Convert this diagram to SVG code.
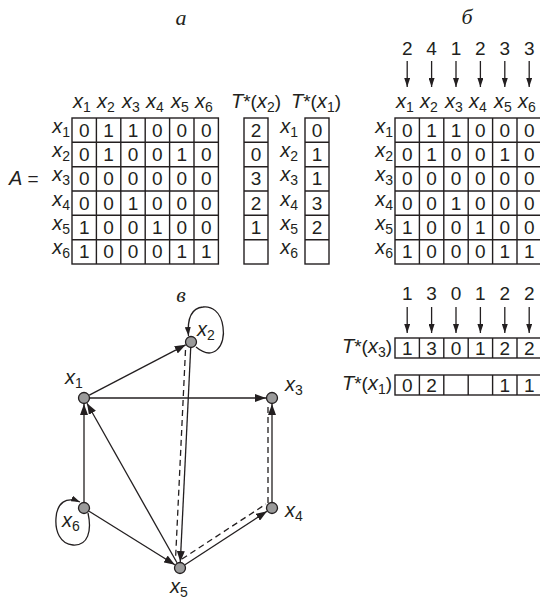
<svg xmlns="http://www.w3.org/2000/svg" width="540" height="600" viewBox="0 0 540 600">
<defs>
<style>
.t{font-family:"Liberation Sans",Arial,sans-serif;font-size:19px;fill:#231f20}
.c{text-anchor:middle}
.e{text-anchor:end}
.i{font-style:italic;font-size:20px}
.s{font-size:14px;font-style:normal}
.h{font-family:"Liberation Serif","DejaVu Serif",serif;font-style:italic;font-size:22px;fill:#231f20;text-anchor:middle}
.g{fill:none;stroke:#231f20;stroke-width:1.4}
.ln{stroke:#231f20;stroke-width:1.3;fill:none}
.ds{stroke:#231f20;stroke-width:1.3;fill:none;stroke-dasharray:6 4}
.nd{fill:#9a9a9a;stroke:#231f20;stroke-width:1.3}
</style>
<marker id="ar" markerUnits="userSpaceOnUse" markerWidth="12" markerHeight="8" refX="11" refY="4" orient="auto">
<path d="M0,0 L11,4 L0,8 Z" fill="#231f20"/>
</marker>
<marker id="as" markerUnits="userSpaceOnUse" markerWidth="10" markerHeight="6" refX="9" refY="3" orient="auto">
<path d="M0,0 L9,3 L0,6 Z" fill="#231f20"/>
</marker>
</defs>
<rect width="540" height="600" fill="#fff"/>

<text class="h" x="181" y="25">а</text>
<text class="h" x="467" y="24">б</text>
<text class="h" x="181" y="302">в</text>

<!-- Panel a: matrix A -->
<g id="matrixA">
<g class="t c">
<text x="82" y="108"><tspan class="i">x</tspan><tspan class="s" dy="4">1</tspan></text>
<text x="106" y="108"><tspan class="i">x</tspan><tspan class="s" dy="4">2</tspan></text>
<text x="131" y="108"><tspan class="i">x</tspan><tspan class="s" dy="4">3</tspan></text>
<text x="155" y="108"><tspan class="i">x</tspan><tspan class="s" dy="4">4</tspan></text>
<text x="180" y="108"><tspan class="i">x</tspan><tspan class="s" dy="4">5</tspan></text>
<text x="204" y="108"><tspan class="i">x</tspan><tspan class="s" dy="4">6</tspan></text>
</g>
<g class="t e">
<text x="70" y="133"><tspan class="i">x</tspan><tspan class="s" dy="4">1</tspan></text>
<text x="70" y="157"><tspan class="i">x</tspan><tspan class="s" dy="4">2</tspan></text>
<text x="70" y="181"><tspan class="i">x</tspan><tspan class="s" dy="4">3</tspan></text>
<text x="70" y="206"><tspan class="i">x</tspan><tspan class="s" dy="4">4</tspan></text>
<text x="70" y="230"><tspan class="i">x</tspan><tspan class="s" dy="4">5</tspan></text>
<text x="70" y="254"><tspan class="i">x</tspan><tspan class="s" dy="4">6</tspan></text>
</g>
<text class="t" x="9" y="185"><tspan class="i">A</tspan> =</text>
<rect class="g" x="72" y="118" width="146.4" height="146"/>
<path class="g" d="M96.4,118V264M120.8,118V264M145.2,118V264M169.6,118V264M194,118V264M72,142.3H218.4M72,166.7H218.4M72,191H218.4M72,215.3H218.4M72,239.7H218.4"/>
<g class="t c">
<text x="84.2" y="137">0</text><text x="108.6" y="137">1</text><text x="133" y="137">1</text><text x="157.4" y="137">0</text><text x="181.8" y="137">0</text><text x="206.2" y="137">0</text>
<text x="84.2" y="161">0</text><text x="108.6" y="161">1</text><text x="133" y="161">0</text><text x="157.4" y="161">0</text><text x="181.8" y="161">1</text><text x="206.2" y="161">0</text>
<text x="84.2" y="185">0</text><text x="108.6" y="185">0</text><text x="133" y="185">0</text><text x="157.4" y="185">0</text><text x="181.8" y="185">0</text><text x="206.2" y="185">0</text>
<text x="84.2" y="210">0</text><text x="108.6" y="210">0</text><text x="133" y="210">1</text><text x="157.4" y="210">0</text><text x="181.8" y="210">0</text><text x="206.2" y="210">0</text>
<text x="84.2" y="234">1</text><text x="108.6" y="234">0</text><text x="133" y="234">0</text><text x="157.4" y="234">1</text><text x="181.8" y="234">0</text><text x="206.2" y="234">0</text>
<text x="84.2" y="258">1</text><text x="108.6" y="258">0</text><text x="133" y="258">0</text><text x="157.4" y="258">0</text><text x="181.8" y="258">1</text><text x="206.2" y="258">1</text>
</g>
</g>

<!-- T*(x2) column -->
<g id="Tx2col">
<text class="t" x="231" y="108"><tspan class="i">T</tspan>*(<tspan class="i">x</tspan><tspan class="s" dy="4">2</tspan><tspan dy="-4">)</tspan></text>
<rect class="g" x="244" y="118" width="24" height="146"/>
<path class="g" d="M244,142.3H268M244,166.7H268M244,191H268M244,215.3H268M244,239.7H268"/>
<g class="t c">
<text x="256" y="137">2</text><text x="256" y="161">0</text><text x="256" y="185">3</text><text x="256" y="210">2</text><text x="256" y="234">1</text>
</g>
</g>

<!-- T*(x1) column -->
<g id="Tx1col">
<text class="t" x="291" y="108"><tspan class="i">T</tspan>*(<tspan class="i">x</tspan><tspan class="s" dy="4">1</tspan><tspan dy="-4">)</tspan></text>
<g class="t e">
<text x="298" y="133"><tspan class="i">x</tspan><tspan class="s" dy="4">1</tspan></text>
<text x="298" y="157"><tspan class="i">x</tspan><tspan class="s" dy="4">2</tspan></text>
<text x="298" y="181"><tspan class="i">x</tspan><tspan class="s" dy="4">3</tspan></text>
<text x="298" y="206"><tspan class="i">x</tspan><tspan class="s" dy="4">4</tspan></text>
<text x="298" y="230"><tspan class="i">x</tspan><tspan class="s" dy="4">5</tspan></text>
<text x="298" y="254"><tspan class="i">x</tspan><tspan class="s" dy="4">6</tspan></text>
</g>
<rect class="g" x="305" y="118" width="24" height="146"/>
<path class="g" d="M305,142.3H329M305,166.7H329M305,191H329M305,215.3H329M305,239.7H329"/>
<g class="t c">
<text x="317" y="137">0</text><text x="317" y="161">1</text><text x="317" y="185">1</text><text x="317" y="210">3</text><text x="317" y="234">2</text>
</g>
</g>

<!-- Panel b -->
<g id="topArrows">
<g class="t c">
<text x="407.2" y="55">2</text><text x="431.6" y="55">4</text><text x="456" y="55">1</text><text x="480.4" y="55">2</text><text x="504.8" y="55">3</text><text x="529.2" y="55">3</text>
</g>
<path class="ln" marker-end="url(#as)" d="M407.2,61V87"/>
<path class="ln" marker-end="url(#as)" d="M431.6,61V87"/>
<path class="ln" marker-end="url(#as)" d="M456,61V87"/>
<path class="ln" marker-end="url(#as)" d="M480.4,61V87"/>
<path class="ln" marker-end="url(#as)" d="M504.8,61V87"/>
<path class="ln" marker-end="url(#as)" d="M529.2,61V87"/>
</g>

<g id="matrixB">
<g class="t c">
<text x="405" y="108"><tspan class="i">x</tspan><tspan class="s" dy="4">1</tspan></text>
<text x="429" y="108"><tspan class="i">x</tspan><tspan class="s" dy="4">2</tspan></text>
<text x="454" y="108"><tspan class="i">x</tspan><tspan class="s" dy="4">3</tspan></text>
<text x="478" y="108"><tspan class="i">x</tspan><tspan class="s" dy="4">4</tspan></text>
<text x="503" y="108"><tspan class="i">x</tspan><tspan class="s" dy="4">5</tspan></text>
<text x="527" y="108"><tspan class="i">x</tspan><tspan class="s" dy="4">6</tspan></text>
</g>
<g class="t e">
<text x="393" y="133"><tspan class="i">x</tspan><tspan class="s" dy="4">1</tspan></text>
<text x="393" y="157"><tspan class="i">x</tspan><tspan class="s" dy="4">2</tspan></text>
<text x="393" y="181"><tspan class="i">x</tspan><tspan class="s" dy="4">3</tspan></text>
<text x="393" y="206"><tspan class="i">x</tspan><tspan class="s" dy="4">4</tspan></text>
<text x="393" y="230"><tspan class="i">x</tspan><tspan class="s" dy="4">5</tspan></text>
<text x="393" y="254"><tspan class="i">x</tspan><tspan class="s" dy="4">6</tspan></text>
</g>
<rect class="g" x="395" y="118" width="146.4" height="146"/>
<path class="g" d="M419.4,118V264M443.8,118V264M468.2,118V264M492.6,118V264M517,118V264M395,142.3H541.4M395,166.7H541.4M395,191H541.4M395,215.3H541.4M395,239.7H541.4"/>
<g class="t c">
<text x="407.2" y="137">0</text><text x="431.6" y="137">1</text><text x="456" y="137">1</text><text x="480.4" y="137">0</text><text x="504.8" y="137">0</text><text x="529.2" y="137">0</text>
<text x="407.2" y="161">0</text><text x="431.6" y="161">1</text><text x="456" y="161">0</text><text x="480.4" y="161">0</text><text x="504.8" y="161">1</text><text x="529.2" y="161">0</text>
<text x="407.2" y="185">0</text><text x="431.6" y="185">0</text><text x="456" y="185">0</text><text x="480.4" y="185">0</text><text x="504.8" y="185">0</text><text x="529.2" y="185">0</text>
<text x="407.2" y="210">0</text><text x="431.6" y="210">0</text><text x="456" y="210">1</text><text x="480.4" y="210">0</text><text x="504.8" y="210">0</text><text x="529.2" y="210">0</text>
<text x="407.2" y="234">1</text><text x="431.6" y="234">0</text><text x="456" y="234">0</text><text x="480.4" y="234">1</text><text x="504.8" y="234">0</text><text x="529.2" y="234">0</text>
<text x="407.2" y="258">1</text><text x="431.6" y="258">0</text><text x="456" y="258">0</text><text x="480.4" y="258">0</text><text x="504.8" y="258">1</text><text x="529.2" y="258">1</text>
</g>
</g>

<g id="bottomArrows">
<g class="t c">
<text x="407.2" y="300">1</text><text x="431.6" y="300">3</text><text x="456" y="300">0</text><text x="480.4" y="300">1</text><text x="504.8" y="300">2</text><text x="529.2" y="300">2</text>
</g>
<path class="ln" marker-end="url(#as)" d="M407.2,307V333"/>
<path class="ln" marker-end="url(#as)" d="M431.6,307V333"/>
<path class="ln" marker-end="url(#as)" d="M456,307V333"/>
<path class="ln" marker-end="url(#as)" d="M480.4,307V333"/>
<path class="ln" marker-end="url(#as)" d="M504.8,307V333"/>
<path class="ln" marker-end="url(#as)" d="M529.2,307V333"/>
</g>

<g id="Tx3row">
<text class="t e" x="392" y="353"><tspan class="i">T</tspan>*(<tspan class="i">x</tspan><tspan class="s" dy="4">3</tspan><tspan dy="-4">)</tspan></text>
<rect class="g" x="395" y="338" width="146.4" height="20"/>
<path class="g" d="M419.4,338V358M443.8,338V358M468.2,338V358M492.6,338V358M517,338V358"/>
<g class="t c">
<text x="407.2" y="355">1</text><text x="431.6" y="355">3</text><text x="456" y="355">0</text><text x="480.4" y="355">1</text><text x="504.8" y="355">2</text><text x="529.2" y="355">2</text>
</g>
</g>

<g id="Tx1row">
<text class="t e" x="392" y="390"><tspan class="i">T</tspan>*(<tspan class="i">x</tspan><tspan class="s" dy="4">1</tspan><tspan dy="-4">)</tspan></text>
<rect class="g" x="395" y="375" width="146.4" height="20"/>
<path class="g" d="M419.4,375V395M443.8,375V395M468.2,375V395M492.6,375V395M517,375V395"/>
<g class="t c">
<text x="407.2" y="392">0</text><text x="431.6" y="392">2</text><text x="504.8" y="392">1</text><text x="529.2" y="392">1</text>
</g>
</g>

<!-- Panel v: graph -->
<g id="connectors">
<path class="ln" marker-end="url(#ar)" d="M89.3,395.2L185.7,344.8"/>
<path class="ln" marker-end="url(#ar)" d="M90,398H266"/>
<path class="ln" marker-end="url(#ar)" d="M84,502V404"/>
<path class="ln" marker-end="url(#ar)" d="M177,562.8L87,403.2"/>
<path class="ln" marker-end="url(#ar)" d="M89.1,511.2L174.9,564.8"/>
<path class="ln" marker-end="url(#ar)" d="M190.7,348L180.3,562"/>
<path class="ln" marker-end="url(#ar)" d="M185,564.7L267,511.3"/>
<path class="ln" marker-end="url(#ar)" d="M272,502V404"/>
<path class="ds" d="M185.5,350L175.5,560"/>
<path class="ds" d="M182,559L266,504"/>
<path class="ds" d="M268,503V404"/>
<path class="ln" marker-end="url(#as)" d="M196,347C214,362 226,345 223,327C221,311 211,306 203,307C192,308 187,318 188.5,336"/>
<path class="ln" marker-end="url(#as)" d="M88,513C92,531 88,546 73,545C60,544 55,531 56,518C57,503 66,496 80,502"/>
</g>

<g id="n1"><circle class="nd" cx="84" cy="398" r="5.5"/><text class="t" x="65" y="384"><tspan class="i">x</tspan><tspan class="s" dy="4">1</tspan></text></g>
<g id="n2"><circle class="nd" cx="191" cy="342" r="5.5"/><text class="t" x="197" y="336"><tspan class="i">x</tspan><tspan class="s" dy="4">2</tspan></text></g>
<g id="n3"><circle class="nd" cx="272" cy="398" r="5.5"/><text class="t" x="285" y="391"><tspan class="i">x</tspan><tspan class="s" dy="4">3</tspan></text></g>
<g id="n4"><circle class="nd" cx="272" cy="508" r="5.5"/><text class="t" x="285" y="517"><tspan class="i">x</tspan><tspan class="s" dy="4">4</tspan></text></g>
<g id="n5"><circle class="nd" cx="180" cy="568" r="5.5"/><text class="t" x="170" y="593"><tspan class="i">x</tspan><tspan class="s" dy="4">5</tspan></text></g>
<g id="n6"><circle class="nd" cx="84" cy="508" r="5.5"/><text class="t" x="62" y="527"><tspan class="i">x</tspan><tspan class="s" dy="4">6</tspan></text></g>
</svg>
